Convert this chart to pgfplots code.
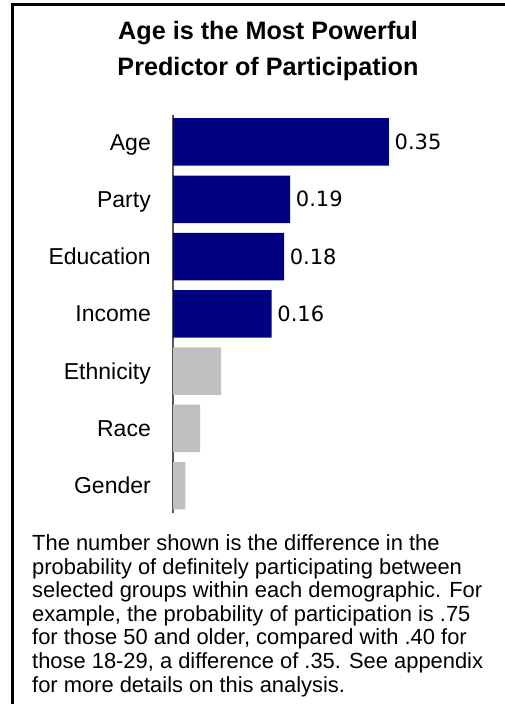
\documentclass[border=0pt]{standalone}
\usepackage{pgfplots}
\pgfplotsset{compat=1.18}
\usepackage{fontspec}
\setmainfont{Liberation Sans}
\newfontfamily\dejavu{DejaVu Sans}
\definecolor{navybar}{RGB}{0,0,128}
\definecolor{graybar}{RGB}{192,192,192}
\definecolor{axisgray}{RGB}{85,85,85}
\begin{document}
\begin{tikzpicture}
\path[use as bounding box] (0pt,0pt) rectangle (504pt,704pt);
\draw[line width=3pt] (12.5pt,-5pt) -- (12.5pt,699pt) -- (510pt,699pt);
\node[font=\bfseries\fontsize{25.2}{29}\selectfont, anchor=base, inner sep=0pt] at (268pt,664pt) {Age is the Most Powerful};
\node[font=\bfseries\fontsize{25.2}{29}\selectfont, anchor=base, inner sep=0pt] at (268pt,628.5pt) {Predictor of Participation};
\begin{axis}[
  at={(173pt,589pt)}, anchor=north west,
  scale only axis, width=308.5pt, height=398pt,
  xbar, xmin=0, xmax=0.5,
  ymin=-0.4716, ymax=6.48, y dir=reverse,
  axis x line=none, axis y line*=left,
  y axis line style={draw=axisgray, line width=1.5pt},
  ytick={0,...,6},
  yticklabels={Age,Party,Education,Income,Ethnicity,Race,Gender},
  major tick length=0pt,
  yticklabel style={font=\fontsize{23}{27}\selectfont, anchor=base east, inner sep=0pt, xshift=-22pt, yshift=-8.2pt},
  bar width=47.5pt,
  clip=false,
]
\addplot[fill=navybar, draw=none, bar shift=0pt, point meta=x,
  nodes near coords={\pgfmathprintnumber[fixed,fixed zerofill,precision=2,assume math mode=true]{\pgfplotspointmeta}},
  nodes near coords align={horizontal},
  nodes near coords style={font=\dejavu\fontsize{21}{24}\selectfont, anchor=west, inner sep=0pt, xshift=5.5pt, text=black}]
  coordinates {(0.35,0) (0.19,1) (0.18,2) (0.16,3)};
\addplot[fill=graybar, draw=none, bar shift=0pt]
  coordinates {(0.078,4) (0.044,5) (0.02,6)};
\end{axis}
\begin{scope}[every node/.style={anchor=base west, inner sep=0pt, font=\fontsize{21.9}{24}\selectfont}]
\node at (32pt,153pt) {The number shown is the difference in the};
\node at (32pt,129.5pt) {probability of definitely participating between};
\node at (32pt,106pt) {selected groups within each demographic. For};
\node at (32pt,82.5pt) {example, the probability of participation is .75};
\node at (32pt,59pt) {for those 50 and older, compared with .40 for};
\node at (32pt,35.5pt) {those 18-29, a difference of .35. See appendix};
\node at (32pt,12pt) {for more details on this analysis.};
\end{scope}
\end{tikzpicture}
\end{document}
